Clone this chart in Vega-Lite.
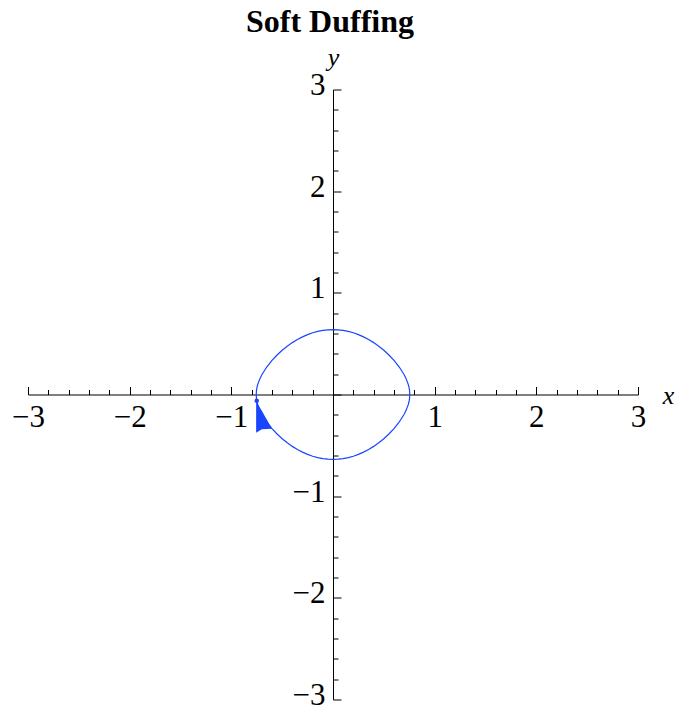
{
  "$schema": "https://vega.github.io/schema/vega-lite/v6.json",
  "width": 610,
  "height": 610,
  "autosize": "none",
  "padding": {"left": 28, "top": 89.5, "right": 40, "bottom": 11.5},
  "background": "white",
  "title": {
    "text": "Soft Duffing",
    "font": "Liberation Serif",
    "fontSize": 32,
    "fontWeight": "bold",
    "color": "black",
    "anchor": "middle",
    "dx": -3,
    "offset": 5
  },
  "config": {"view": {"stroke": null}},
  "datasets": {
    "orbit": [
      {"i": 0, "x": -0.75, "y": -0.0575},
      {"i": 1, "x": -0.74, "y": -0.0997},
      {"i": 2, "x": -0.72, "y": -0.1535},
      {"i": 3, "x": -0.70, "y": -0.1940},
      {"i": 4, "x": -0.65, "y": -0.2727},
      {"i": 5, "x": -0.60, "y": -0.3353},
      {"i": 6, "x": -0.55, "y": -0.3884},
      {"i": 7, "x": -0.50, "y": -0.4346},
      {"i": 8, "x": -0.45, "y": -0.4750},
      {"i": 9, "x": -0.40, "y": -0.5103},
      {"i": 10, "x": -0.35, "y": -0.5409},
      {"i": 11, "x": -0.30, "y": -0.5671},
      {"i": 12, "x": -0.25, "y": -0.5891},
      {"i": 13, "x": -0.20, "y": -0.6070},
      {"i": 14, "x": -0.15, "y": -0.6208},
      {"i": 15, "x": -0.10, "y": -0.6306},
      {"i": 16, "x": -0.05, "y": -0.6365},
      {"i": 17, "x": 0.00, "y": -0.6384},
      {"i": 18, "x": 0.05, "y": -0.6365},
      {"i": 19, "x": 0.10, "y": -0.6306},
      {"i": 20, "x": 0.15, "y": -0.6208},
      {"i": 21, "x": 0.20, "y": -0.6070},
      {"i": 22, "x": 0.25, "y": -0.5891},
      {"i": 23, "x": 0.30, "y": -0.5671},
      {"i": 24, "x": 0.35, "y": -0.5409},
      {"i": 25, "x": 0.40, "y": -0.5103},
      {"i": 26, "x": 0.45, "y": -0.4750},
      {"i": 27, "x": 0.50, "y": -0.4346},
      {"i": 28, "x": 0.55, "y": -0.3884},
      {"i": 29, "x": 0.60, "y": -0.3353},
      {"i": 30, "x": 0.65, "y": -0.2727},
      {"i": 31, "x": 0.70, "y": -0.1940},
      {"i": 32, "x": 0.72, "y": -0.1535},
      {"i": 33, "x": 0.74, "y": -0.0997},
      {"i": 34, "x": 0.745, "y": -0.0812},
      {"i": 35, "x": 0.75, "y": -0.0575},
      {"i": 36, "x": 0.753, "y": -0.0366},
      {"i": 37, "x": 0.7551, "y": 0},
      {"i": 38, "x": 0.753, "y": 0.0366},
      {"i": 39, "x": 0.75, "y": 0.0575},
      {"i": 40, "x": 0.745, "y": 0.0812},
      {"i": 41, "x": 0.74, "y": 0.0997},
      {"i": 42, "x": 0.72, "y": 0.1535},
      {"i": 43, "x": 0.70, "y": 0.1940},
      {"i": 44, "x": 0.65, "y": 0.2727},
      {"i": 45, "x": 0.60, "y": 0.3353},
      {"i": 46, "x": 0.55, "y": 0.3884},
      {"i": 47, "x": 0.50, "y": 0.4346},
      {"i": 48, "x": 0.45, "y": 0.4750},
      {"i": 49, "x": 0.40, "y": 0.5103},
      {"i": 50, "x": 0.35, "y": 0.5409},
      {"i": 51, "x": 0.30, "y": 0.5671},
      {"i": 52, "x": 0.25, "y": 0.5891},
      {"i": 53, "x": 0.20, "y": 0.6070},
      {"i": 54, "x": 0.15, "y": 0.6208},
      {"i": 55, "x": 0.10, "y": 0.6306},
      {"i": 56, "x": 0.05, "y": 0.6365},
      {"i": 57, "x": 0.00, "y": 0.6384},
      {"i": 58, "x": -0.05, "y": 0.6365},
      {"i": 59, "x": -0.10, "y": 0.6306},
      {"i": 60, "x": -0.15, "y": 0.6208},
      {"i": 61, "x": -0.20, "y": 0.6070},
      {"i": 62, "x": -0.25, "y": 0.5891},
      {"i": 63, "x": -0.30, "y": 0.5671},
      {"i": 64, "x": -0.35, "y": 0.5409},
      {"i": 65, "x": -0.40, "y": 0.5103},
      {"i": 66, "x": -0.45, "y": 0.4750},
      {"i": 67, "x": -0.50, "y": 0.4346},
      {"i": 68, "x": -0.55, "y": 0.3884},
      {"i": 69, "x": -0.60, "y": 0.3353},
      {"i": 70, "x": -0.65, "y": 0.2727},
      {"i": 71, "x": -0.70, "y": 0.1940},
      {"i": 72, "x": -0.72, "y": 0.1535},
      {"i": 73, "x": -0.74, "y": 0.0997},
      {"i": 74, "x": -0.745, "y": 0.0812},
      {"i": 75, "x": -0.75, "y": 0.0575},
      {"i": 76, "x": -0.753, "y": 0.0366},
      {"i": 77, "x": -0.7551, "y": 0},
      {"i": 78, "x": -0.753, "y": -0.0366},
      {"i": 79, "x": -0.75, "y": -0.0575}
    ],
    "arrowhead": [
      {"x": -0.756, "y": -0.068, "y2": -0.376},
      {"x": -0.700, "y": -0.160, "y2": -0.342},
      {"x": -0.602, "y": -0.335, "y2": -0.336}
    ],
    "start": [
      {"x": -0.75, "y": -0.062}
    ]
  },
  "encoding": {
    "x": {
      "field": "x",
      "type": "quantitative",
      "scale": {"domain": [-3, 3], "nice": false, "zero": false},
      "axis": {
        "orient": "bottom",
        "offset": -305,
        "values": [-3, -2.8, -2.6, -2.4, -2.2, -2, -1.8, -1.6, -1.4, -1.2, -1, -0.8, -0.6, -0.4, -0.2, 0, 0.2, 0.4, 0.6, 0.8, 1, 1.2, 1.4, 1.6, 1.8, 2, 2.2, 2.4, 2.6, 2.8, 3],
        "grid": false,
        "domainColor": "black",
        "domainWidth": 1,
        "tickColor": "black",
        "tickWidth": 1,
        "tickSize": {"condition": {"test": "abs(datum.value - round(datum.value)) < 0.01", "value": -8}, "value": -5},
        "labelExpr": "abs(datum.value - round(datum.value)) < 0.01 && round(datum.value) != 0 ? replace(format(round(datum.value), 'd'), '-', '\u2212') : ''",
        "labelFont": "Liberation Serif",
        "labelFontSize": 31,
        "labelColor": "black",
        "labelBaseline": "top",
        "labelPadding": 16,
        "labelFlush": false,
        "labelOverlap": false,
        "title": "x",
        "titleFont": "Liberation Serif",
        "titleFontStyle": "italic",
        "titleFontWeight": "normal",
        "titleFontSize": 26,
        "titleColor": "black",
        "titleX": 640,
        "titleY": 8.5,
        "titleAlign": "center",
        "titleBaseline": "alphabetic"
      }
    },
    "y": {
      "field": "y",
      "type": "quantitative",
      "scale": {"domain": [-3, 3], "nice": false, "zero": false},
      "axis": {
        "orient": "left",
        "offset": -305,
        "values": [-3, -2.8, -2.6, -2.4, -2.2, -2, -1.8, -1.6, -1.4, -1.2, -1, -0.8, -0.6, -0.4, -0.2, 0, 0.2, 0.4, 0.6, 0.8, 1, 1.2, 1.4, 1.6, 1.8, 2, 2.2, 2.4, 2.6, 2.8, 3],
        "grid": false,
        "domainColor": "black",
        "domainWidth": 1,
        "tickColor": "black",
        "tickWidth": 1,
        "tickSize": {"condition": {"test": "abs(datum.value - round(datum.value)) < 0.01", "value": -8}, "value": -5},
        "labelExpr": "abs(datum.value - round(datum.value)) < 0.01 && round(datum.value) != 0 ? replace(format(round(datum.value), 'd'), '-', '\u2212') : ''",
        "labelFont": "Liberation Serif",
        "labelFontSize": 31,
        "labelColor": "black",
        "labelBaseline": "middle",
        "labelAlign": "right",
        "labelPadding": 16,
        "labelOffset": -4,
        "labelFlush": false,
        "labelOverlap": false,
        "title": "y",
        "titleFont": "Liberation Serif",
        "titleFontStyle": "italic",
        "titleFontWeight": "normal",
        "titleFontSize": 26,
        "titleColor": "black",
        "titleAngle": 0,
        "titleX": 0,
        "titleY": -24.5,
        "titleAlign": "center",
        "titleBaseline": "alphabetic"
      }
    }
  },
  "layer": [
    {
      "data": {"name": "orbit"},
      "mark": {"type": "line", "color": "#1a45ff", "strokeWidth": 1.2, "clip": false},
      "encoding": {"order": {"field": "i", "type": "quantitative"}}
    },
    {
      "data": {"name": "arrowhead"},
      "mark": {"type": "area", "orient": "vertical", "color": "#1a45ff", "opacity": 1},
      "encoding": {"y2": {"field": "y2"}}
    },
    {
      "data": {"name": "start"},
      "mark": {"type": "point", "filled": true, "color": "#1a45ff", "size": 20, "opacity": 1}
    }
  ]
}
